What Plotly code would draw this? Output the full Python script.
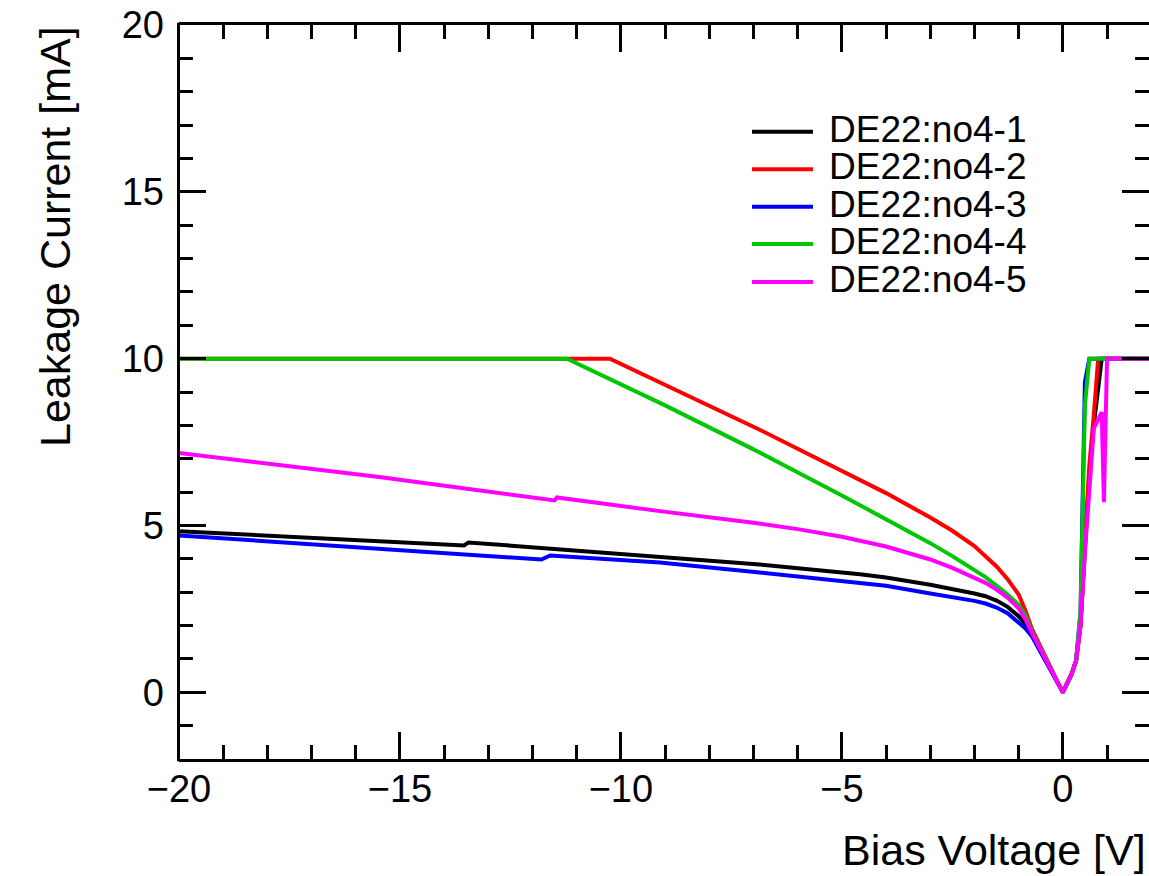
import plotly.graph_objects as go

# ---------------- data ----------------
series_names = ["DE22:no4-1", "DE22:no4-2", "DE22:no4-3", "DE22:no4-4", "DE22:no4-5"]
series_colors = ["#000000", "#FF0000", "#0000FF", "#00C800", "#FF00FF"]

v_no4_1 = [-20, -13.55, -13.45, -11.38, -9.12, -6.86, -4.59, -4, -3, -2.5, -2, -1.75, -1.5, -1.25, -1, -0.85, -0.7,
           0, 0.1, 0.2, 0.3, 0.4, 0.5, 0.6, 0.7, 0.8, 0.88, 2.0]
i_no4_1 = [4.83, 4.40, 4.49, 4.28, 4.07, 3.83, 3.54, 3.44, 3.22, 3.10, 2.96, 2.88, 2.75, 2.56, 2.28, 2.05, 1.74,
           0, 0.28, 0.55, 0.95, 2.0, 4.3, 6.5, 8.0, 9.2, 10, 10]

v_no4_2 = [-20, -10.25, -6.86, -5, -4, -3, -2.5, -2, -1.75, -1.5, -1.25, -1, -0.85, -0.7,
           0, 0.1, 0.2, 0.3, 0.4, 0.5, 0.6, 0.7, 0.8, 2.0]
i_no4_2 = [10, 10, 7.87, 6.65, 5.97, 5.24, 4.84, 4.38, 4.09, 3.77, 3.39, 2.93, 2.46, 1.9,
           0, 0.28, 0.55, 0.95, 2.0, 4.5, 6.8, 8.3, 10, 10]

v_no4_3 = [-20, -11.8, -11.6, -10.95, -9.12, -6.86, -4.59, -4, -3, -2.5, -2, -1.75, -1.5, -1.25, -1, -0.85, -0.7,
           0, 0.1, 0.2, 0.3, 0.4, 0.5, 0.6, 2.0]
i_no4_3 = [4.70, 3.98, 4.10, 4.04, 3.89, 3.59, 3.29, 3.19, 2.96, 2.86, 2.74, 2.66, 2.54, 2.37, 2.11, 1.92, 1.68,
           0, 0.28, 0.55, 0.95, 2.4, 9.3, 10, 10]

v_no4_4 = [-20, -11.22, -9, -7, -5, -4, -3, -2.5, -2, -1.75, -1.5, -1.25, -1, -0.85, -0.7,
           0, 0.1, 0.2, 0.3, 0.4, 0.5, 0.6, 2.0]
i_no4_4 = [10, 10, 8.6, 7.28, 5.9, 5.2, 4.47, 4.08, 3.67, 3.45, 3.2, 2.93, 2.62, 2.3, 1.82,
           0, 0.28, 0.55, 0.95, 2.4, 8.6, 10, 10]

v_no4_5 = [-20, -15.47, -11.5, -11.45, -9.12, -8, -7, -6, -5, -4, -3, -2.5, -2, -1.75, -1.5, -1.25, -1, -0.85, -0.7,
           0, 0.1, 0.2, 0.3, 0.4, 0.5, 0.6, 0.7, 0.88, 0.93, 1.0, 2.0]
i_no4_5 = [7.17, 6.45, 5.75, 5.84, 5.43, 5.25, 5.08, 4.89, 4.66, 4.37, 3.98, 3.73, 3.45, 3.28, 3.08, 2.84, 2.52, 2.2, 1.78,
           0, 0.28, 0.55, 0.95, 2.0, 4.2, 6.2, 7.9, 8.4, 5.7, 10, 10]

x_values = [v_no4_1, v_no4_2, v_no4_3, v_no4_4, v_no4_5]
y_values = [i_no4_1, i_no4_2, i_no4_3, i_no4_4, i_no4_5]

x_tick_vals = [-20, -15, -10, -5, 0]
y_tick_vals = [0, 5, 10, 15, 20]

# ---------------- figure ----------------
FONT = "Liberation Sans, Arial, Helvetica, sans-serif"
W, H = 1149, 876
L, R, T, B = 179, 0, 25, 117

fig = go.Figure()
for xs, ys, name, col in zip(x_values, y_values, series_names, series_colors):
    fig.add_trace(go.Scatter(x=xs, y=ys, mode="lines", name=name,
                             line=dict(color=col, width=4), showlegend=False))

axis_common = dict(
    linecolor="black", linewidth=3, mirror="allticks",
    ticks="inside", ticklen=27, tickwidth=3, tickcolor="black",
    showgrid=False, zeroline=False,
    tickfont=dict(family=FONT, size=38, color="black"),
)
minor = dict(dtick=1, ticks="inside", ticklen=14, tickwidth=3, tickcolor="black", showgrid=False)
fig.update_xaxes(range=[-20, 1.95], tickvals=x_tick_vals, showline=True, minor=minor,
                 ticklabelstandoff=-6, **axis_common)
fig.update_yaxes(range=[-2, 20], tickvals=y_tick_vals, showline=False, minor=minor,
                 ticklabelstandoff=14, **axis_common)

pw = W - L - R
ph = H - T - B
def px_x(p):
    return (p - L) / pw
def px_y(p):
    return (H - B - p) / ph

shapes = [dict(type="line", xref="paper", yref="paper", x0=px_x(178.5), x1=px_x(178.5),
               y0=-0.003, y1=1.003, line=dict(color="black", width=3))]
annotations = [
    dict(text="Bias Voltage [V]", x=px_x(1148), y=px_y(850), xref="paper", yref="paper",
         xanchor="right", yanchor="middle", showarrow=False,
         font=dict(family=FONT, size=43, color="black")),
    dict(text="Leakage Current [mA]", x=px_x(55), y=px_y(237), xref="paper", yref="paper",
         xanchor="center", yanchor="middle", showarrow=False, textangle=-90,
         font=dict(family=FONT, size=43, color="black")),
]
legend_rows = [131.7, 169.3, 206.7, 244.0, 282.0]
for name, col, ry in zip(series_names, series_colors, legend_rows):
    shapes.append(dict(type="line", xref="paper", yref="paper",
                       x0=px_x(752), x1=px_x(813), y0=px_y(ry), y1=px_y(ry),
                       line=dict(color=col, width=4)))
    annotations.append(dict(text=name, x=px_x(827), y=px_y(ry - 3), xref="paper", yref="paper",
                            xanchor="left", yanchor="middle", showarrow=False,
                            height=36, valign="middle",
                            font=dict(family=FONT, size=37, color="black")))

fig.update_layout(
    width=W, height=H, autosize=False,
    margin=dict(l=L, r=R, t=T, b=B, pad=0),
    paper_bgcolor="white", plot_bgcolor="white",
    annotations=annotations, shapes=shapes,
    showlegend=False,
)

fig.write_html("out.html")
